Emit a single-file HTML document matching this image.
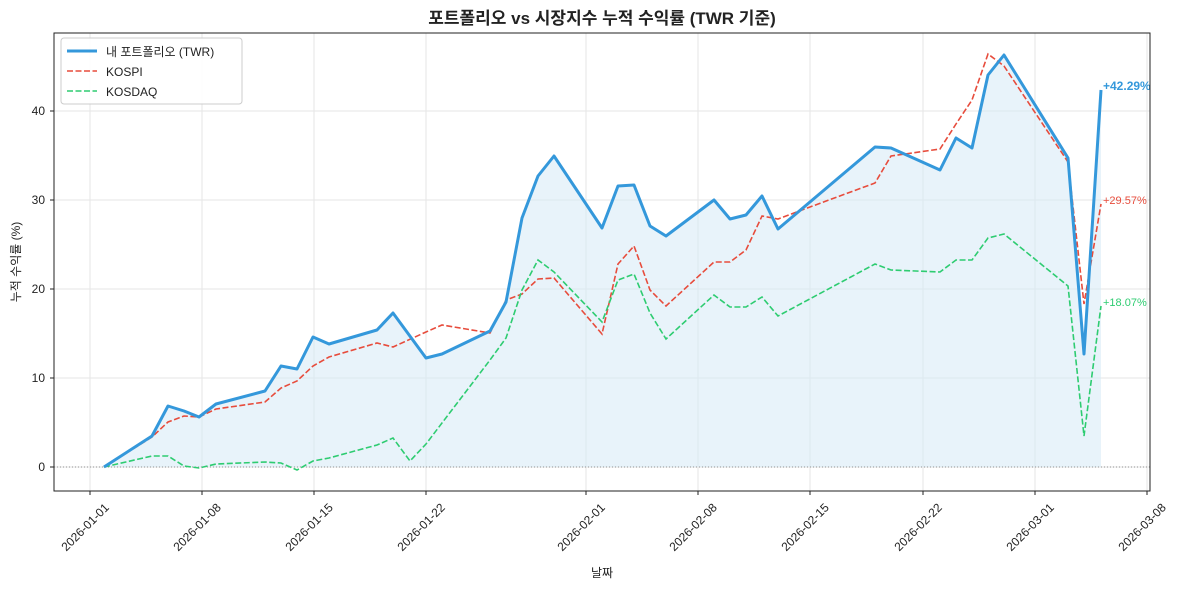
<!DOCTYPE html>
<html><head><meta charset="utf-8"><style>
body{margin:0;background:#fff}
text{font-family:"Liberation Sans","Noto Sans CJK KR",sans-serif;fill:#222}
</style></head><body>
<svg width="1189" height="590" xmlns="http://www.w3.org/2000/svg">
<text x="602" y="24" text-anchor="middle" font-size="17" font-weight="bold">포트폴리오 vs 시장지수 누적 수익률 (TWR 기준)</text>
<g stroke="#e6e6e6" stroke-width="1">
<line x1="90" y1="33" x2="90" y2="491"/><line x1="202" y1="33" x2="202" y2="491"/><line x1="314" y1="33" x2="314" y2="491"/><line x1="426" y1="33" x2="426" y2="491"/><line x1="586" y1="33" x2="586" y2="491"/><line x1="698" y1="33" x2="698" y2="491"/><line x1="810" y1="33" x2="810" y2="491"/><line x1="923" y1="33" x2="923" y2="491"/><line x1="1035" y1="33" x2="1035" y2="491"/><line x1="1147" y1="33" x2="1147" y2="491"/>
<line x1="54" y1="467" x2="1150" y2="467"/><line x1="54" y1="378" x2="1150" y2="378"/><line x1="54" y1="289" x2="1150" y2="289"/><line x1="54" y1="200" x2="1150" y2="200"/><line x1="54" y1="111" x2="1150" y2="111"/>
</g>
<polygon fill="#d6eaf6" fill-opacity="0.55" points="104,467 152,436 168,406 184,411 199,417 216,404 265,391 281,366 297,369 313,337 329,344 377,330 393,313 426,358 442,354 490,331 506,302 522,218 538,176 554,156 602,228 618,186 634,185 650,226 666,236 714,200 730,219 746,215 762,196 778,229 875,147 891,148 940,170 956,138 972,148 988,75 1004,55 1068,158 1084,354 1101,90 1101,467"/>
<line x1="54" y1="467" x2="1150" y2="467" stroke="#777" stroke-width="0.8" stroke-dasharray="1,2"/>
<polyline fill="none" stroke="#e74c3c" stroke-width="1.6" stroke-dasharray="6,2.5" points="104,467 152,437 168,422 184,416 199,417 216,409 265,402 281,388 297,381 313,366 329,357 377,343 393,347 426,332 442,325 490,333 506,300 522,294 538,279 554,278 602,334 618,264 634,246 650,290 666,306 714,262 730,262 746,250 762,216 778,219 810,207 875,183 891,156 940,149 956,124 972,100 988,54 1004,66 1068,162 1084,304 1101,204"/>
<polyline fill="none" stroke="#2ecc71" stroke-width="1.6" stroke-dasharray="6,2.5" points="104,467 152,456 168,456 184,466 199,468 216,464 265,462 281,463 297,470 313,461 329,458 377,445 393,438 410,461 426,444 490,360 506,338 522,290 538,260 554,272 602,322 618,280 634,274 650,313 666,339 714,295 730,307 746,307 762,297 778,316 875,264 891,270 940,272 956,260 972,260 988,238 1004,234 1068,286 1084,436 1101,306"/>
<polyline fill="none" stroke="#3498db" stroke-width="3" stroke-linejoin="round" points="104,467 152,436 168,406 184,411 199,417 216,404 265,391 281,366 297,369 313,337 329,344 377,330 393,313 426,358 442,354 490,331 506,302 522,218 538,176 554,156 602,228 618,186 634,185 650,226 666,236 714,200 730,219 746,215 762,196 778,229 875,147 891,148 940,170 956,138 972,148 988,75 1004,55 1068,158 1084,354 1101,90"/>
<text x="1103" y="90" font-size="12" font-weight="bold" style="fill:#3498db">+42.29%</text>
<text x="1103" y="204" font-size="11" style="fill:#e74c3c">+29.57%</text>
<text x="1103" y="306" font-size="11" style="fill:#2ecc71">+18.07%</text>
<rect x="54" y="33" width="1096" height="458" fill="none" stroke="#222" stroke-width="1"/>
<g font-size="12" text-anchor="end">
<text x="45" y="471">0</text><text x="45" y="382">10</text><text x="45" y="293">20</text><text x="45" y="204">30</text><text x="45" y="115">40</text>
</g>
<g stroke="#222"><line x1="50" y1="467" x2="54" y2="467"/><line x1="50" y1="378" x2="54" y2="378"/><line x1="50" y1="289" x2="54" y2="289"/><line x1="50" y1="200" x2="54" y2="200"/><line x1="50" y1="111" x2="54" y2="111"/>
<line x1="90" y1="491" x2="90" y2="495"/><line x1="202" y1="491" x2="202" y2="495"/><line x1="314" y1="491" x2="314" y2="495"/><line x1="426" y1="491" x2="426" y2="495"/><line x1="586" y1="491" x2="586" y2="495"/><line x1="698" y1="491" x2="698" y2="495"/><line x1="810" y1="491" x2="810" y2="495"/><line x1="923" y1="491" x2="923" y2="495"/><line x1="1035" y1="491" x2="1035" y2="495"/><line x1="1147" y1="491" x2="1147" y2="495"/></g>
<g font-size="12" text-anchor="middle">
<text transform="translate(88,530) rotate(-45)">2026-01-01</text>
<text transform="translate(200,530) rotate(-45)">2026-01-08</text>
<text transform="translate(312,530) rotate(-45)">2026-01-15</text>
<text transform="translate(424,530) rotate(-45)">2026-01-22</text>
<text transform="translate(584,530) rotate(-45)">2026-02-01</text>
<text transform="translate(696,530) rotate(-45)">2026-02-08</text>
<text transform="translate(808,530) rotate(-45)">2026-02-15</text>
<text transform="translate(921,530) rotate(-45)">2026-02-22</text>
<text transform="translate(1033,530) rotate(-45)">2026-03-01</text>
<text transform="translate(1145,530) rotate(-45)">2026-03-08</text>
</g>
<text x="602" y="577" font-size="12" text-anchor="middle">날짜</text>
<text transform="translate(20,262) rotate(-90)" font-size="12" text-anchor="middle">누적 수익률 (%)</text>
<rect x="61" y="38" width="181" height="66" fill="#fff" fill-opacity="0.9" stroke="#ccc" rx="3"/>
<line x1="67" y1="51" x2="97" y2="51" stroke="#3498db" stroke-width="3"/>
<line x1="67" y1="71" x2="97" y2="71" stroke="#e74c3c" stroke-width="1.6" stroke-dasharray="6,2.5"/>
<line x1="67" y1="91" x2="97" y2="91" stroke="#2ecc71" stroke-width="1.6" stroke-dasharray="6,2.5"/>
<g font-size="12"><text x="106" y="56">내 포트폴리오 (TWR)</text><text x="106" y="76">KOSPI</text><text x="106" y="96">KOSDAQ</text></g>
</svg>
</body></html>
